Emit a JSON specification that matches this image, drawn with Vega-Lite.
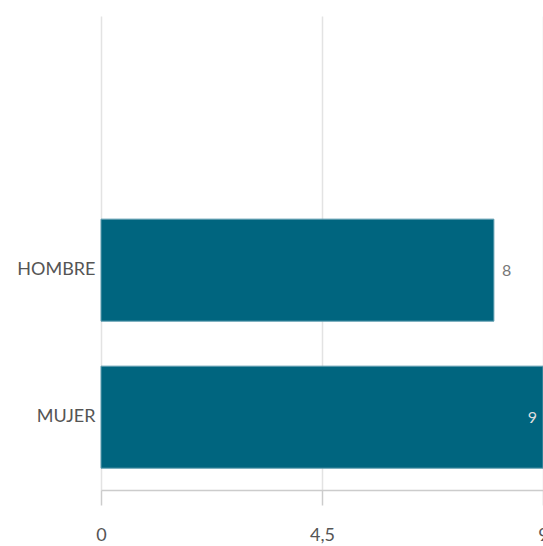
{
  "$schema": "https://vega.github.io/schema/vega-lite/v6.json",
  "autosize": {"type": "none"},
  "padding": {"left": 101, "top": 16, "right": 0, "bottom": 56},
  "width": 442,
  "height": 474,
  "background": "white",
  "config": {
    "view": {"stroke": null},
    "font": "Lato"
  },
  "data": {
    "values": [
      {"sexo": "HOMBRE", "valor": 8},
      {"sexo": "MUJER", "valor": 9}
    ]
  },
  "encoding": {
    "y": {
      "field": "sexo",
      "type": "nominal",
      "scale": {"domain": ["", "HOMBRE", "MUJER"], "paddingInner": 0.306, "paddingOuter": 0.265, "align": 0.72},
      "axis": {
        "title": null,
        "ticks": false,
        "domain": false,
        "grid": false,
        "labelFontSize": 18,
        "labelColor": "#555555",
        "labelPadding": 6,
        "labelFont": "Lato"
      }
    },
    "x": {
      "field": "valor",
      "type": "quantitative",
      "scale": {"domain": [0, 9], "nice": false},
      "axis": {
        "title": null,
        "values": [0, 4.5, 9],
        "format": ",.1~f",
        "formatType": "number",
        "labelExpr": "replace(datum.label, '.', ',')",
        "grid": true,
        "gridColor": "#e3e3e3",
        "gridWidth": 1.5,
        "domainColor": "#cccccc",
        "domainWidth": 1.5,
        "tickColor": "#cccccc",
        "tickWidth": 1.5,
        "tickSize": 15,
        "labelFontSize": 18,
        "labelColor": "#555555",
        "labelPadding": 21,
        "labelFont": "Lato",
        "labelFlush": false
      }
    }
  },
  "layer": [
    {
      "mark": {"type": "bar", "color": "#00657f", "stroke": "#5f9db0", "strokeWidth": 1}
    },
    {
      "transform": [{"filter": "datum.valor < 9"}],
      "mark": {"type": "text", "align": "left", "dx": 8, "dy": 1, "fontSize": 16, "color": "#777777", "font": "Lato"},
      "encoding": {"text": {"field": "valor", "type": "quantitative"}}
    },
    {
      "transform": [{"filter": "datum.valor >= 9"}],
      "mark": {"type": "text", "align": "right", "dx": -6, "dy": 1, "fontSize": 16, "color": "#dddddd", "font": "Lato"},
      "encoding": {"text": {"field": "valor", "type": "quantitative"}}
    }
  ]
}
